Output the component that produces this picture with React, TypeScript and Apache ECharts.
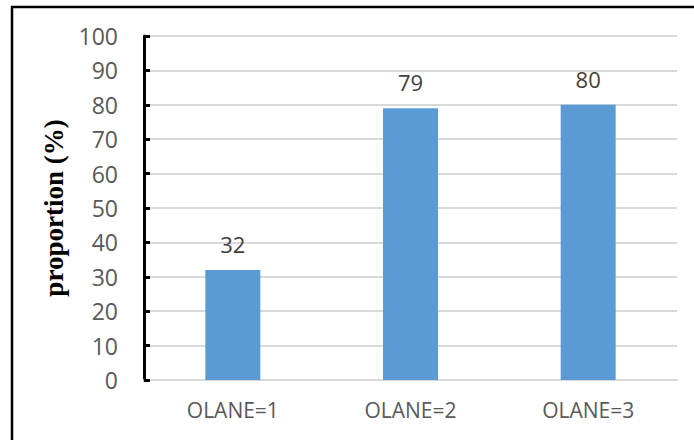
import React, { useEffect, useRef } from "react";
import * as echarts from "echarts";

const categories = ["OLANE=1", "OLANE=2", "OLANE=3"];
const proportions = [32, 79, 80];
const yTicks = { min: 0, max: 100, interval: 10 };

export default function App() {
  const ref = useRef<HTMLDivElement>(null);
  useEffect(() => {
    document.body.style.margin = "0";
    const chart = echarts.init(ref.current!, null, { renderer: "svg" });
    chart.setOption({
      animation: false,
      backgroundColor: "#ffffff",
      grid: { left: 144, right: 17, top: 36, bottom: 60 },
      graphic: [
        {
          type: "line",
          shape: { x1: 11, y1: 7, x2: 700, y2: 7 },
          style: { stroke: "#000", lineWidth: 2.5 },
        },
        {
          type: "line",
          shape: { x1: 12, y1: 6, x2: 12, y2: 450 },
          style: { stroke: "#000", lineWidth: 2.5 },
        },
      ],
      xAxis: {
        type: "category",
        data: categories,
        axisLine: { show: true, lineStyle: { color: "#d9d9d9", width: 2 } },
        axisTick: { show: false },
        axisLabel: {
          color: "#595959",
          fontSize: 21,
          fontFamily: "Open Sans",
          margin: 19,
        },
      },
      yAxis: {
        type: "value",
        min: yTicks.min,
        max: yTicks.max,
        interval: yTicks.interval,
        name: "proportion (%)",
        nameLocation: "middle",
        nameGap: 68,
        nameTextStyle: {
          fontFamily: "Liberation Serif",
          fontWeight: "bold",
          fontSize: 27,
          color: "#000",
        },
        axisLine: { show: true, lineStyle: { color: "#000", width: 3 } },
        axisTick: { show: true, inside: true, length: 6, lineStyle: { color: "#000", width: 3 } },
        axisLabel: {
          color: "#595959",
          fontSize: 23,
          fontFamily: "Open Sans",
          margin: 26,
        },
        splitLine: { show: true, lineStyle: { color: "#d9d9d9", width: 2 } },
      },
      series: [
        {
          type: "bar",
          data: proportions,
          barWidth: 55,
          itemStyle: { color: "#5b9bd5" },
          label: {
            show: true,
            position: "top",
            distance: 15,
            color: "#404040",
            fontSize: 22,
            fontFamily: "Open Sans",
          },
        },
      ],
    });
    return () => chart.dispose();
  }, []);
  return <div ref={ref} style={{ width: 694, height: 440 }} />;
}
